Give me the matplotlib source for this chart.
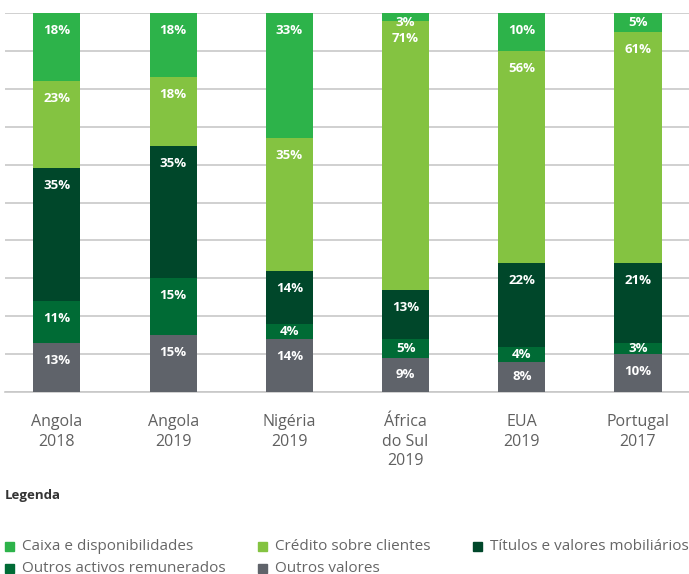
import matplotlib.pyplot as plt
from matplotlib.patches import Rectangle

plt.rcParams['font.family'] = ['Open Sans', 'DejaVu Sans']

paises = ['Angola\n2018', 'Angola\n2019', 'Nigéria\n2019', 'África\ndo Sul\n2019', 'EUA\n2019', 'Portugal\n2017']

# bottom to top
outros_valores = [13, 15, 14, 9, 8, 10]
outros_activos = [11, 15, 4, 5, 4, 3]
titulos = [35, 35, 14, 13, 22, 21]
credito = [23, 18, 35, 71, 56, 61]
caixa = [18, 18, 33, 3, 10, 5]

series = [
    ('Outros valores', outros_valores, '#5f636a'),
    ('Outros activos remunerados', outros_activos, '#006b35'),
    ('Títulos e valores mobiliários', titulos, '#00472a'),
    ('Crédito sobre clientes', credito, '#84c341'),
    ('Caixa e disponibilidades', caixa, '#2db34a'),
]

fig = plt.figure(figsize=(6.89, 5.74), dpi=100)
ax = fig.add_axes([5 / 689, 1 - 392 / 574, 684 / 689, 379 / 574])

x = list(range(len(paises)))
bottom = [0] * len(paises)
for nome, vals, cor in series:
    ax.bar(x, vals, width=0.405, bottom=bottom, color=cor, zorder=3)
    for i, v in enumerate(vals):
        top = min(bottom[i] + v, 100)
        h = top - bottom[i]
        y = min(top - min(4.6, h / 2), 97.4)
        ax.text(i, y, f'{v}%', ha='center', va='center', color='white',
                fontsize=9.5, fontweight='bold', zorder=4)
    bottom = [b + v for b, v in zip(bottom, vals)]

ax.set_ylim(0, 100)
ax.set_xlim(-0.447, 5.439)
ax.set_yticks(range(0, 101, 10))
ax.yaxis.grid(True, color='#c8c8c8', linewidth=1.2, zorder=0)
ax.tick_params(axis='y', left=False, labelleft=False)
ax.set_xticks(x)
ax.set_xticklabels(paises, fontsize=11.5, color='#606060', linespacing=1.3)
ax.tick_params(axis='x', length=0, pad=16)
for s in ['top', 'right', 'left']:
    ax.spines[s].set_visible(False)
ax.spines['bottom'].set_color('#c8c8c8')
ax.spines['bottom'].set_linewidth(1.2)

fig.text(5 / 689, 1 - 495 / 574, 'Legenda', fontsize=9.5, fontweight='bold',
         color='#333333', va='center', ha='left')

leg_items = [
    ('Caixa e disponibilidades', '#2db34a', 5, 546),
    ('Crédito sobre clientes', '#84c341', 258, 546),
    ('Títulos e valores mobiliários', '#00472a', 473, 546),
    ('Outros activos remunerados', '#006b35', 5, 568),
    ('Outros valores', '#5f636a', 258, 568),
]
for nome, cor, px, py in leg_items:
    fig.patches.append(Rectangle((px / 689, 1 - (py + 4.5) / 574), 9 / 689, 9 / 574,
                                 color=cor, transform=fig.transFigure, figure=fig))
    fig.text((px + 17) / 689, 1 - py / 574, nome, fontsize=11, color='#666666',
             va='center', ha='left')

fig.savefig('out.png', dpi=100)
